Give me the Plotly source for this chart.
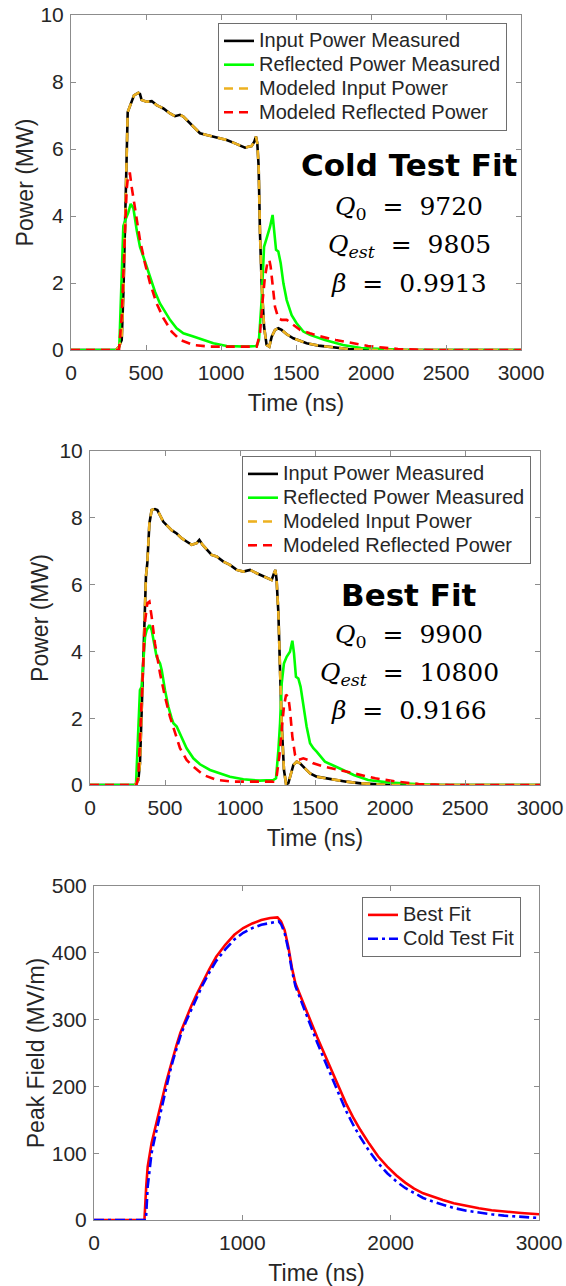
import plotly.graph_objects as go

W, H = 566, 1286

# ---------------- Panel 1: Cold Test Fit ----------------
p1_in_t = [0, 300, 320, 338, 350, 360, 370, 378, 393, 420, 449, 460, 471, 504, 538, 571, 616, 660, 693, 727, 749, 782, 816, 860, 904, 949, 993, 1038, 1082, 1127, 1160, 1182, 1204, 1222, 1233, 1242, 1251, 1260, 1271, 1287, 1304, 1322, 1338, 1360, 1382, 1404, 1438, 1482, 1527, 1571, 1650, 1750, 1850, 1950, 2050, 3000]
p1_in_p = [0, 0, 0.1, 0.3, 1.8, 3.5, 5.5, 7.1, 7.28, 7.6, 7.68, 7.64, 7.46, 7.41, 7.43, 7.31, 7.21, 7.06, 6.98, 7.02, 6.97, 6.82, 6.67, 6.47, 6.42, 6.37, 6.32, 6.27, 6.19, 6.09, 6.04, 6.07, 6.09, 6.22, 6.37, 6.17, 5.47, 3.48, 1.99, 0.7, 0.15, 0.1, 0.4, 0.6, 0.65, 0.6, 0.47, 0.35, 0.28, 0.2, 0.13, 0.07, 0.03, 0.01, 0, 0]

p1_ref_t = [0, 300, 322, 338, 349, 364, 382, 398, 416, 438, 460, 482, 504, 538, 560, 593, 627, 660, 704, 749, 816, 882, 949, 1038, 1171, 1238, 1253, 1271, 1287, 1304, 1327, 1344, 1353, 1367, 1382, 1398, 1416, 1438, 1471, 1504, 1549, 1593, 1693, 1813, 1934, 2100, 2250, 3000]
p1_ref_p = [0, 0, 0.1, 2.5, 3.7, 3.9, 4.1, 4.36, 4.23, 3.58, 3.08, 2.79, 2.49, 1.99, 1.74, 1.39, 1.14, 0.9, 0.65, 0.5, 0.4, 0.3, 0.2, 0.12, 0.1, 0.12, 0.3, 1.5, 3.08, 3.33, 3.68, 4.03, 3.68, 2.99, 2.94, 2.59, 1.99, 1.49, 1.04, 0.8, 0.55, 0.45, 0.3, 0.15, 0.06, 0.02, 0, 0]

p1_mref_t = [0, 320, 338, 360, 371, 382, 393, 404, 427, 460, 493, 527, 571, 616, 671, 727, 816, 927, 1238, 1260, 1278, 1293, 1309, 1322, 1331, 1344, 1360, 1382, 1404, 1438, 1482, 1527, 1593, 1650, 1765, 1880, 1980, 2080, 2180, 2300, 2400, 3000]
p1_mref_p = [0, 0, 1.0, 3.5, 4.78, 5.27, 5.27, 4.88, 4.18, 3.28, 2.59, 1.99, 1.39, 0.95, 0.55, 0.3, 0.15, 0.1, 0.1, 0.5, 1.5, 2.19, 2.59, 2.69, 2.49, 1.89, 1.29, 0.95, 0.9, 0.9, 0.75, 0.6, 0.5, 0.42, 0.3, 0.2, 0.12, 0.07, 0.03, 0.01, 0, 0]

# ---------------- Panel 2: Best Fit ----------------
p2_in_t = [0, 300, 322, 333, 351, 362, 373, 382, 396, 411, 433, 449, 467, 489, 511, 544, 578, 611, 644, 678, 711, 729, 751, 778, 811, 844, 889, 933, 978, 1022, 1067, 1111, 1156, 1189, 1211, 1227, 1236, 1244, 1256, 1267, 1278, 1293, 1307, 1322, 1340, 1356, 1378, 1400, 1433, 1467, 1511, 1614, 1710, 1806, 1926, 2000, 3000]
p2_in_p = [0, 0, 0.15, 0.65, 3.14, 5.14, 6.24, 6.64, 7.83, 8.23, 8.26, 8.23, 8.08, 7.88, 7.78, 7.63, 7.53, 7.39, 7.29, 7.19, 7.24, 7.34, 7.19, 7.04, 6.89, 6.84, 6.69, 6.59, 6.44, 6.39, 6.44, 6.34, 6.24, 6.19, 6.14, 6.34, 6.44, 6.14, 5.14, 3.44, 1.85, 0.45, 0.03, 0.05, 0.35, 0.6, 0.7, 0.65, 0.5, 0.35, 0.25, 0.17, 0.1, 0.05, 0.01, 0, 0]

p2_ref_t = [0, 300, 307, 322, 333, 344, 356, 367, 378, 396, 411, 427, 444, 467, 478, 500, 522, 544, 556, 578, 611, 644, 689, 733, 800, 867, 933, 1022, 1133, 1222, 1240, 1256, 1267, 1278, 1293, 1311, 1333, 1349, 1360, 1373, 1389, 1404, 1422, 1444, 1467, 1489, 1511, 1566, 1662, 1758, 1854, 1998, 2200, 2350, 3000]
p2_ref_p = [0, 0, 0.05, 1.45, 2.84, 2.94, 3.64, 4.44, 4.64, 4.79, 4.64, 4.24, 3.84, 3.64, 3.44, 2.84, 2.35, 2.0, 1.85, 1.75, 1.4, 1.1, 0.8, 0.62, 0.45, 0.35, 0.25, 0.17, 0.13, 0.15, 0.2, 1.05, 1.85, 3.04, 3.64, 3.84, 3.99, 4.32, 3.94, 3.24, 3.19, 2.94, 2.35, 1.75, 1.25, 1.1, 1.0, 0.7, 0.5, 0.3, 0.15, 0.07, 0.02, 0, 0]

p2_mref_t = [0, 310, 322, 340, 356, 367, 382, 396, 411, 433, 467, 500, 533, 567, 600, 644, 689, 756, 844, 956, 1222, 1244, 1262, 1278, 1293, 1307, 1322, 1333, 1349, 1367, 1389, 1422, 1456, 1489, 1560, 1662, 1758, 1902, 2046, 2190, 2300, 2400, 3000]
p2_mref_p = [0, 0, 0.25, 2.15, 3.84, 4.89, 5.44, 5.49, 5.04, 4.24, 3.34, 2.64, 2.05, 1.55, 1.1, 0.75, 0.55, 0.3, 0.15, 0.1, 0.1, 0.25, 0.85, 1.65, 2.35, 2.7, 2.64, 2.25, 1.45, 0.9, 0.75, 0.8, 0.75, 0.65, 0.55, 0.45, 0.35, 0.2, 0.1, 0.03, 0.01, 0, 0]

# ---------------- Panel 3: Peak field ----------------
p3_best_t = [0, 340, 352, 362, 388, 412, 437, 461, 485, 510, 534, 558, 582, 618, 655, 692, 728, 776, 824, 885, 946, 1006, 1067, 1128, 1188, 1237, 1261, 1285, 1310, 1334, 1358, 1395, 1431, 1468, 1504, 1553, 1601, 1650, 1698, 1746, 1795, 1856, 1916, 1977, 2037, 2098, 2158, 2219, 2280, 2352, 2425, 2510, 2595, 2680, 2765, 2880, 3000]
p3_best_f = [0, 0, 50, 80, 115, 138, 160, 183, 205, 225, 245, 263, 280, 301, 320, 338, 354, 375, 394, 412, 427, 437, 444, 449, 452, 453, 447, 434, 409, 378, 354, 333, 314, 294, 274, 249, 225, 199, 175, 154, 135, 114, 95, 80, 67, 56, 47, 40, 35, 30, 25, 21, 17.5, 14.5, 12.5, 10.5, 8.5]

p3_cold_t = [0, 350, 362, 375, 388, 412, 437, 461, 485, 510, 534, 558, 582, 618, 655, 692, 728, 776, 824, 885, 946, 1006, 1067, 1128, 1188, 1245, 1261, 1285, 1310, 1334, 1358, 1395, 1431, 1468, 1504, 1553, 1601, 1650, 1698, 1746, 1795, 1856, 1916, 1977, 2037, 2098, 2158, 2219, 2280, 2352, 2425, 2510, 2595, 2680, 2765, 2880, 3000]
p3_cold_f = [0, 0, 50, 80, 100, 125, 150, 175, 198, 220, 240, 258, 275, 296, 315, 333, 350, 370, 388, 405, 420, 430, 437, 442, 445, 447, 443, 430, 405, 374, 350, 328, 308, 287, 266, 240, 214, 188, 164, 143, 124, 103, 85, 70, 58, 48, 40, 33, 28, 23, 18, 14, 11, 8.5, 6.5, 4.5, 3]

labels_power = ["Input Power Measured", "Reflected Power Measured", "Modeled Input Power", "Modeled Reflected Power"]
labels_field = ["Best Fit", "Cold Test Fit"]
x_ticks_power = [0, 500, 1000, 1500, 2000, 2500, 3000]
y_ticks_power = [0, 2, 4, 6, 8, 10]
x_ticks_field = [0, 1000, 2000, 3000]
y_ticks_field = [0, 100, 200, 300, 400, 500]

BLACK, GREEN, ORANGE, RED, BLUE = "#000000", "#00ff00", "#edb120", "#ff0000", "#0000ff"
LW = 2.6
DASH = "9px,6px"
FONT = "Liberation Sans, Arial, sans-serif"
AXC = "#8c8c8c"
TXT = "#262626"
LEG_TXT = 20


def fx(px):
    return px / W


def fy(py):
    return 1 - py / H


def lname(s):
    return f'<span style="font-size:{LEG_TXT}px">{s}</span>'


fig = go.Figure()


def power_traces(xa, ya, leg, tin, pin, tr, pr, tm, pm):
    fig.add_trace(go.Scatter(x=tin, y=pin, mode="lines", name=lname(labels_power[0]), xaxis=xa, yaxis=ya,
                             legend=leg, line=dict(color=BLACK, width=LW)))
    fig.add_trace(go.Scatter(x=tr, y=pr, mode="lines", name=lname(labels_power[1]), xaxis=xa, yaxis=ya,
                             legend=leg, line=dict(color=GREEN, width=LW)))
    fig.add_trace(go.Scatter(x=tin, y=pin, mode="lines", name=lname(labels_power[2]), xaxis=xa, yaxis=ya,
                             legend=leg, line=dict(color=ORANGE, width=LW, dash=DASH)))
    fig.add_trace(go.Scatter(x=tm, y=pm, mode="lines", name=lname(labels_power[3]), xaxis=xa, yaxis=ya,
                             legend=leg, line=dict(color=RED, width=LW, dash=DASH)))


power_traces("x", "y", "legend", p1_in_t, p1_in_p, p1_ref_t, p1_ref_p, p1_mref_t, p1_mref_p)
power_traces("x2", "y2", "legend2", p2_in_t, p2_in_p, p2_ref_t, p2_ref_p, p2_mref_t, p2_mref_p)

fig.add_trace(go.Scatter(x=p3_best_t, y=p3_best_f, mode="lines", name=lname(labels_field[0]), xaxis="x3",
                         yaxis="y3", legend="legend3", line=dict(color=RED, width=LW)))
fig.add_trace(go.Scatter(x=p3_cold_t, y=p3_cold_f, mode="lines", name=lname(labels_field[1]), xaxis="x3",
                         yaxis="y3", legend="legend3", line=dict(color=BLUE, width=LW, dash="10px,4px,3px,4px")))


def xax(x0, x1, y_anchor, ticks, title):
    return dict(domain=[fx(x0), fx(x1)], anchor=y_anchor, range=[0, 3000], tickvals=ticks,
                showline=True, linecolor=AXC, linewidth=1, mirror="ticks", ticks="inside", ticklen=5,
                tickcolor=AXC, showgrid=False, zeroline=False, automargin=False, ticklabeloverflow="allow",
                tickfont=dict(family=FONT, size=21, color=TXT), ticklabelstandoff=4,
                title=dict(text=title, font=dict(family=FONT, size=23, color=TXT), standoff=11))


def yax(y0, y1, x_anchor, rng, ticks, title, standoff):
    return dict(domain=[fy(y1), fy(y0)], anchor=x_anchor, range=rng, tickvals=ticks,
                showline=True, linecolor=AXC, linewidth=1, mirror="ticks", ticks="inside", ticklen=5,
                tickcolor=AXC, showgrid=False, zeroline=False, automargin=False, ticklabeloverflow="allow",
                tickfont=dict(family=FONT, size=21, color=TXT), ticklabelstandoff=2,
                title=dict(text=title, font=dict(family=FONT, size=23, color=TXT), standoff=standoff))


def legend(x, y):
    return dict(xref="paper", yref="paper", x=fx(x), y=fy(y), xanchor="left", yanchor="top",
                bgcolor="white", bordercolor="#6e6e6e", borderwidth=1,
                font=dict(family=FONT, size=16, color=TXT), itemwidth=30, tracegroupgap=0)


fig.update_layout(
    width=W, height=H, margin=dict(l=0, r=0, t=0, b=0, autoexpand=False),
    paper_bgcolor="white", plot_bgcolor="white", showlegend=True,
    xaxis=xax(71, 521, "y", x_ticks_power, "Time (ns)"),
    yaxis=yax(15, 350, "x", [0, 10], y_ticks_power, "Power (MW)", 0),
    xaxis2=xax(90, 540, "y2", x_ticks_power, "Time (ns)"),
    yaxis2=yax(451, 785, "x2", [0, 10], y_ticks_power, "Power (MW)", 4),
    xaxis3=xax(94, 539, "y3", x_ticks_field, "Time (ns)"),
    yaxis3=yax(886, 1220, "x3", [0, 500], y_ticks_field, "Peak Field (MV/m)", 0),
    legend=legend(218, 23),
    legend2=legend(242, 456),
    legend3=legend(362, 897),
)

BOLD = "DejaVu Sans, sans-serif"
SERIF = "DejaVu Serif, serif"
EQ = "\u00a0\u00a0=\u00a0\u00a0"


def ann(xp, yp, text, font, size, bold=False):
    fig.add_annotation(xref="paper", yref="paper", x=fx(xp), y=fy(yp), text=text, showarrow=False,
                       xanchor="center", yanchor="middle",
                       font=dict(family=font, size=size, color="black", weight="bold" if bold else "normal"))


ann(409, 165, "Cold Test Fit", BOLD, 31, True)
ann(409, 208, f"<i>Q</i><sub>0</sub>{EQ}9720", SERIF, 25)
ann(409, 246, f"<i>Q</i><sub><i>est</i></sub>{EQ}9805", SERIF, 25)
ann(409, 283, f"<i>β</i>{EQ}0.9913", SERIF, 25)

ann(409, 595, "Best Fit", BOLD, 31, True)
ann(409, 636, f"<i>Q</i><sub>0</sub>{EQ}9900", SERIF, 25)
ann(409, 674, f"<i>Q</i><sub><i>est</i></sub>{EQ}10800", SERIF, 25)
ann(409, 711, f"<i>β</i>{EQ}0.9166", SERIF, 25)

# remove the default 8px page margin so the figure fills the window exactly
fig.write_html("out.html", config={"displayModeBar": False},
               post_script="document.body.style.margin='0';"
                           "document.documentElement.style.overflow='hidden';")
